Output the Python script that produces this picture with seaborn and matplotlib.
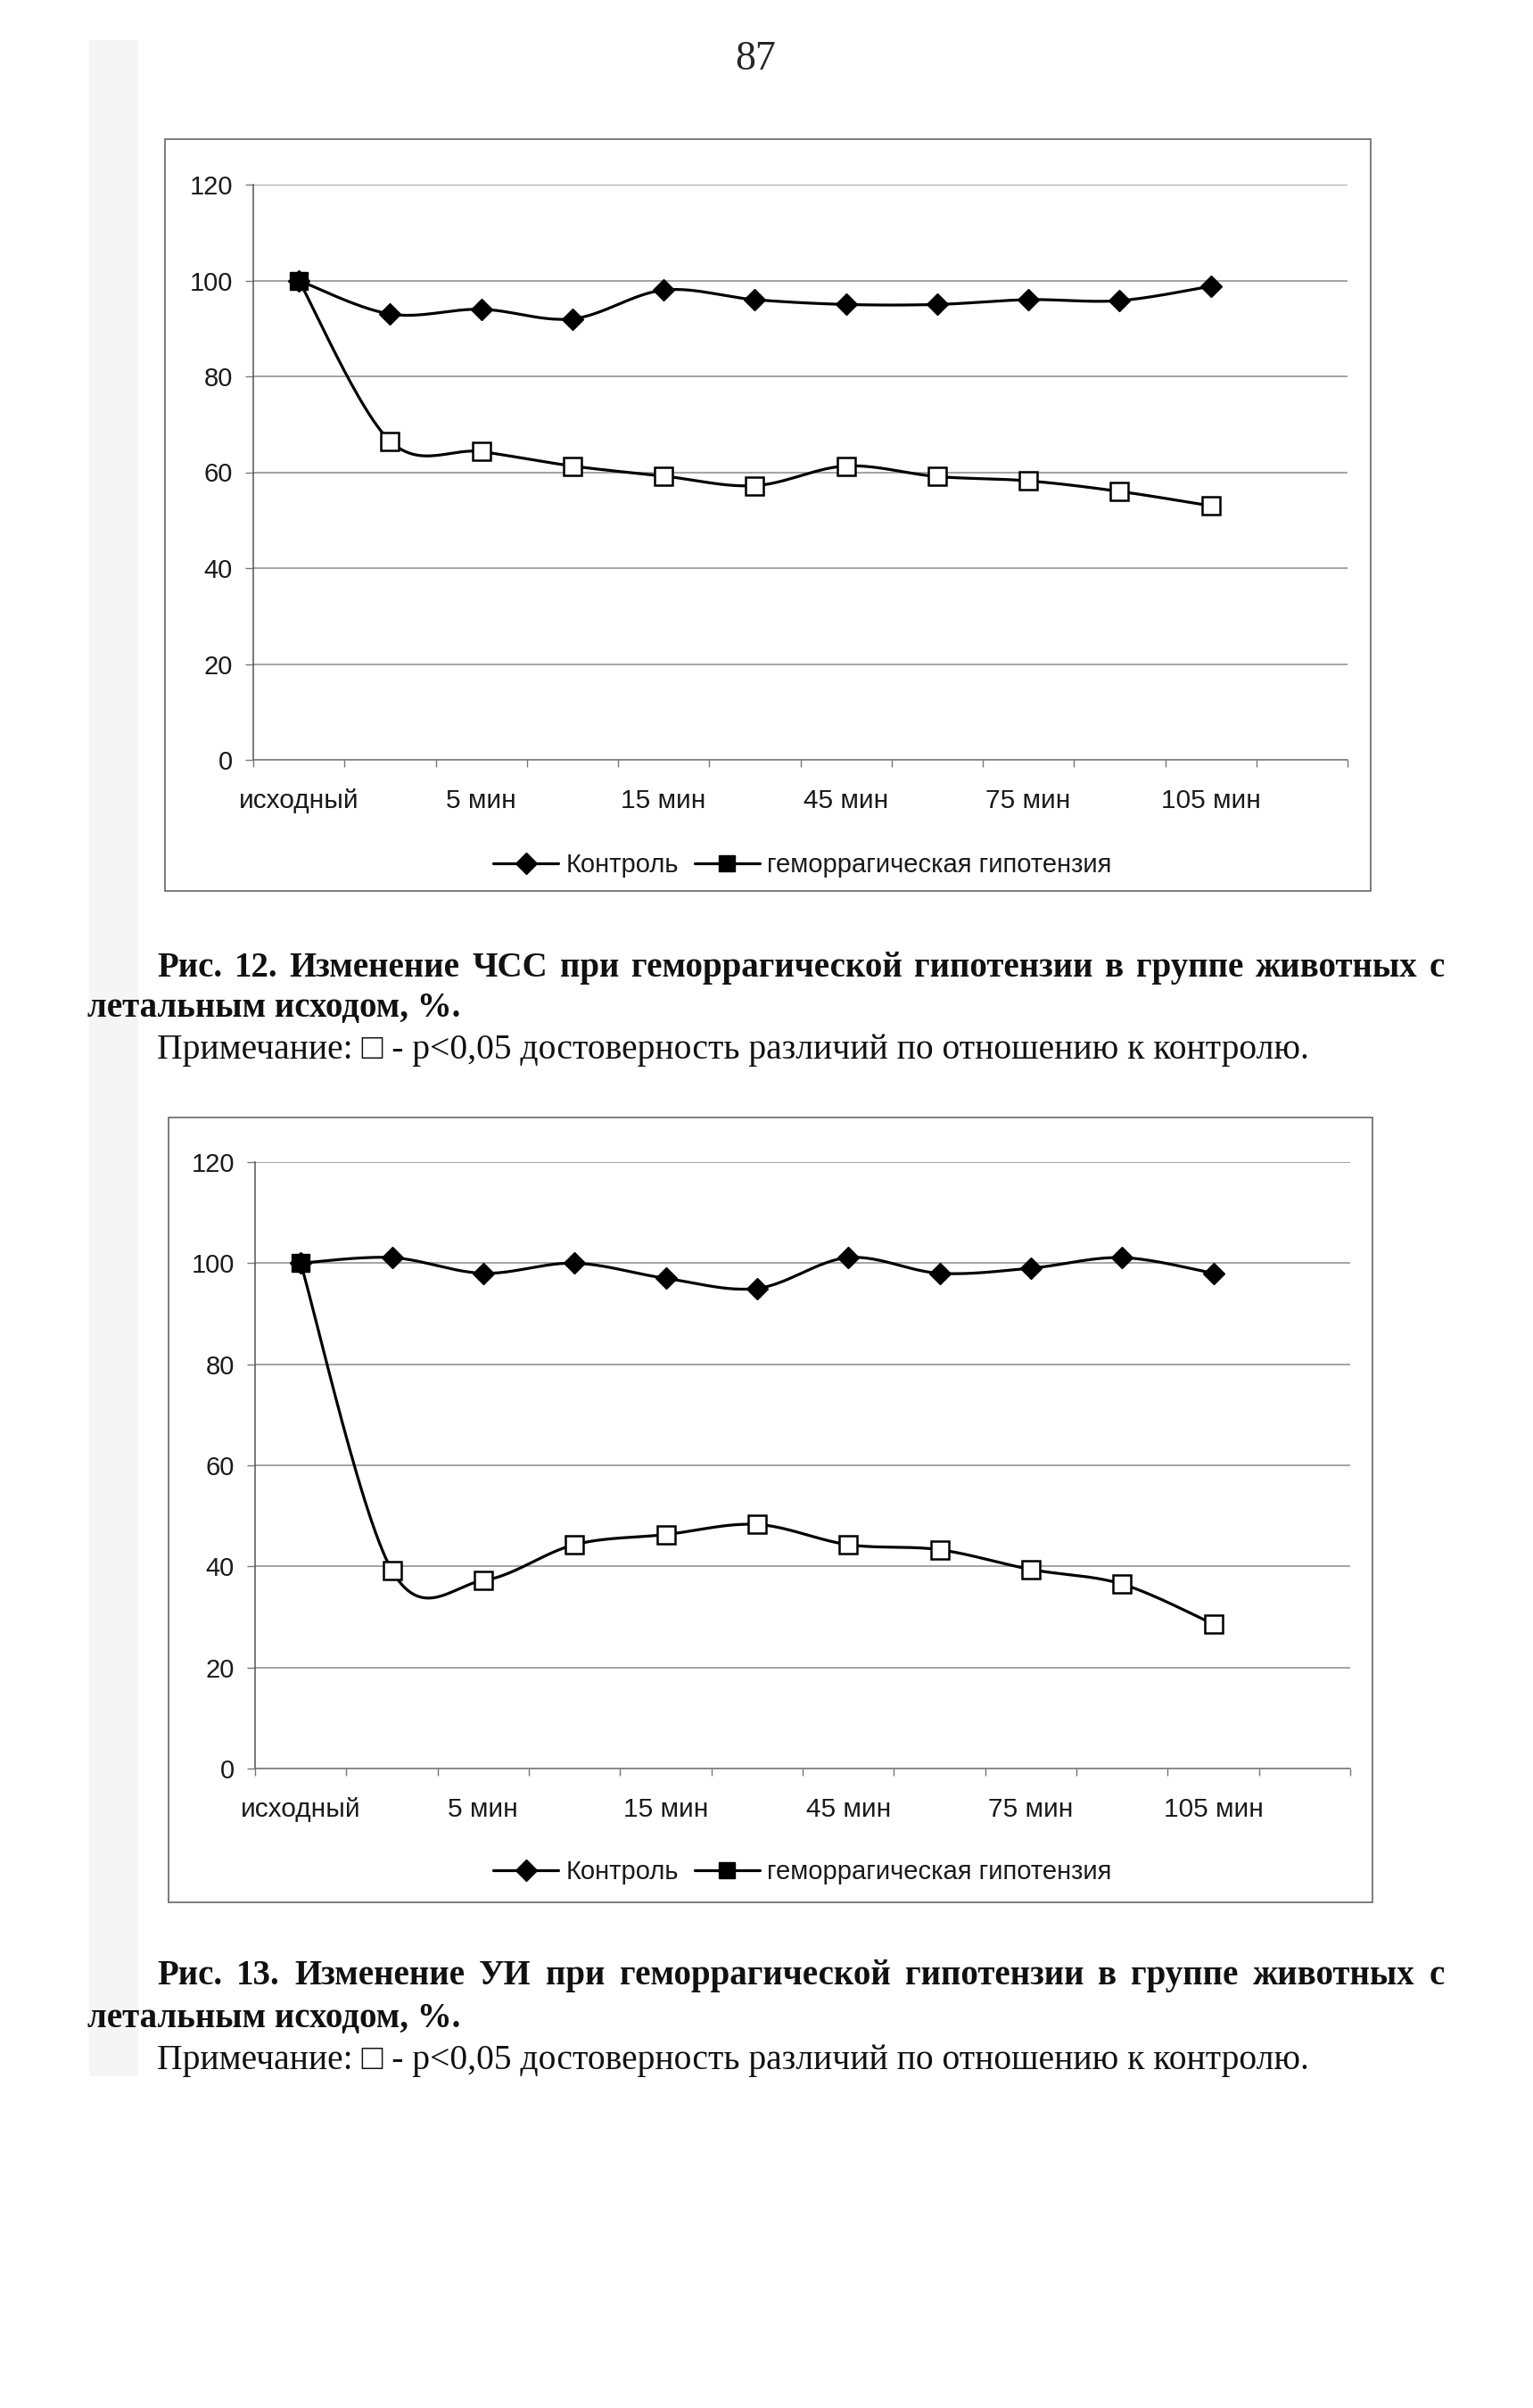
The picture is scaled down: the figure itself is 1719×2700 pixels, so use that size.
import numpy as np
import matplotlib
matplotlib.use("Agg")
import matplotlib.pyplot as plt
import seaborn as sns
from matplotlib.lines import Line2D
from matplotlib.patches import Rectangle

# data (% of baseline)
tick_labels = ["исходный", "5 мин", "15 мин", "45 мин", "75 мин", "105 мин"]
n_slots = 12  # category slots on the x axis, labels shown on every second one

hr_control = [100, 93, 94, 92, 98, 96, 95, 95, 96, 95.8, 98.8]
hr_hemorrhage = [100, 66.5, 64.3, 61.3, 59.2, 57.2, 61.3, 59.1, 58.2, 56, 53]

si_control = [100, 101.1, 98, 100, 97, 95, 101.1, 98, 99, 101.1, 98]
si_hemorrhage = [100, 39.2, 37.2, 44.3, 46.3, 48.3, 44.3, 43.3, 39.4, 36.5, 28.6]

legend_labels = ["Контроль", "геморрагическая гипотензия"]

W, H = 1719, 2700
sns.set_style("white")
plt.rcParams["font.family"] = ["Liberation Sans", "DejaVu Sans"]

fig = plt.figure(figsize=(W / 100, H / 100), dpi=100)


def smooth(xs, ys, n=30):
    # excel-like smoothed line (bezier through the points)
    p = np.column_stack([xs, ys]).astype(float)
    out = []
    for i in range(len(p) - 1):
        p0 = p[i - 1] if i > 0 else p[i]
        p1, p2 = p[i], p[i + 1]
        p3 = p[i + 2] if i + 2 < len(p) else p[i + 1]
        c1 = p1 + (p2 - p0) / 6
        c2 = p2 - (p3 - p1) / 6
        t = np.linspace(0, 1, n)[:, None]
        seg = (1 - t) ** 3 * p1 + 3 * (1 - t) ** 2 * t * c1 + 3 * (1 - t) * t ** 2 * c2 + t ** 3 * p2
        out.append(seg if i == 0 else seg[1:])
    return np.vstack(out)


def px_rect(x0, y0, x1, y1):
    return [x0 / W, 1 - y1 / H, (x1 - x0) / W, (y1 - y0) / H]


def draw_chart(rect, control, hemo, box, legend_y):
    # outer chart frame
    bx0, by0, bx1, by1 = box
    fig.patches.append(Rectangle((bx0 / W, 1 - by1 / H), (bx1 - bx0) / W, (by1 - by0) / H,
                                 transform=fig.transFigure, fill=False, ec="#666666", lw=1.2))
    ax = fig.add_axes(rect)
    x = np.arange(len(control))

    sc = smooth(x, control)
    sns.lineplot(x=sc[:, 0], y=sc[:, 1], sort=False, estimator=None, color="black", lw=2.3, ax=ax)
    ax.plot(x, control, ls="none", marker="D", ms=12.5, color="black", zorder=4)

    sh = smooth(x, hemo)
    sns.lineplot(x=sh[:, 0], y=sh[:, 1], sort=False, estimator=None, color="black", lw=2.3, ax=ax)
    ax.plot(x[1:], hemo[1:], ls="none", marker="s", ms=14, mfc="white", mec="black", mew=1.8, zorder=5)
    ax.plot(x[:1], hemo[:1], ls="none", marker="s", ms=14, color="black", zorder=5)

    ax.set_xlim(-0.5, n_slots - 0.5)
    ax.set_ylim(0, 120)
    ax.set_yticks(range(0, 121, 20))
    ax.yaxis.grid(True, color="#8a8a8a", lw=1.1)
    ax.set_axisbelow(True)
    ax.tick_params(axis="y", left=True, length=6.5, width=1, color="#777777", labelsize=21,
                   labelcolor="#1a1a1a", pad=10)
    ax.set_xticks(np.arange(0, 11, 2))
    ax.set_xticklabels(tick_labels)
    ax.set_xticks(np.arange(-0.5, n_slots, 1), minor=True)
    ax.tick_params(axis="x", which="major", length=0, labelsize=21.5, labelcolor="#1a1a1a", pad=23)
    ax.tick_params(axis="x", which="minor", bottom=True, length=6, width=1, color="#777777")
    for s in ["top", "right"]:
        ax.spines[s].set_visible(False)
    ax.spines["left"].set_color("#555555")
    ax.spines["bottom"].set_color("#777777")
    ax.spines["left"].set_linewidth(1.1)
    ax.spines["bottom"].set_linewidth(1.1)
    ax.set_xlabel("")
    ax.set_ylabel("")

    handles = [Line2D([], [], color="black", lw=2.3, marker="D", ms=12.5),
               Line2D([], [], color="black", lw=2.3, marker="s", ms=13)]
    fig.legend(handles, legend_labels, loc="center", bbox_to_anchor=(900 / W, 1 - legend_y / H),
               ncol=2, frameon=False, fontsize=21, handlelength=2.5, handletextpad=0.3,
               columnspacing=0.6, labelcolor="#1a1a1a")
    return ax


# faint scan shadow at the left margin
fig.patches.append(Rectangle((100 / W, 1 - 2328 / H), 55 / W, (2328 - 45) / H,
                             transform=fig.transFigure, color="#f5f5f5", lw=0, zorder=-5))

draw_chart(px_rect(284, 207, 1511, 852), hr_control, hr_hemorrhage, (185, 156, 1537, 999), 970)
draw_chart(px_rect(286, 1303, 1514, 1983), si_control, si_hemorrhage, (189, 1253, 1539, 2133), 2099)

serif = ["Liberation Serif", "DejaVu Serif"]
fig.text(847 / W, 1 - 78 / H, "87", family=serif, fontsize=33, ha="center", va="baseline")

renderer = fig.canvas.get_renderer()


def justify(text, x0, x1, y, **kw):
    words = text.split(" ")
    objs = [fig.text(0, 1 - y / H, w, va="baseline", **kw) for w in words]
    widths = [o.get_window_extent(renderer).width for o in objs]
    gap = (x1 - x0 - sum(widths)) / (len(words) - 1)
    pos = x0
    for o, w in zip(objs, widths):
        o.set_x(pos / W)
        pos += w + gap


cap_kw = dict(family=serif, fontsize=28, weight="bold", color="#111111")
note_kw = dict(family=serif, fontsize=28.5, color="#111111")
note = "Примечание: □ - p<0,05 достоверность различий по отношению к контролю."

justify("Рис. 12. Изменение ЧСС при геморрагической гипотензии в группе животных с", 176, 1620, 1095, **cap_kw)
fig.text(98 / W, 1 - 1140 / H, "летальным исходом, %.", va="baseline", **cap_kw)
fig.text(176 / W, 1 - 1187 / H, note, va="baseline", **note_kw)

justify("Рис. 13. Изменение УИ при геморрагической гипотензии в группе животных с", 176, 1620, 2225, **cap_kw)
fig.text(98 / W, 1 - 2273 / H, "летальным исходом, %.", va="baseline", **cap_kw)
fig.text(176 / W, 1 - 2320 / H, note, va="baseline", **note_kw)

fig.savefig("out.png", dpi=100)
